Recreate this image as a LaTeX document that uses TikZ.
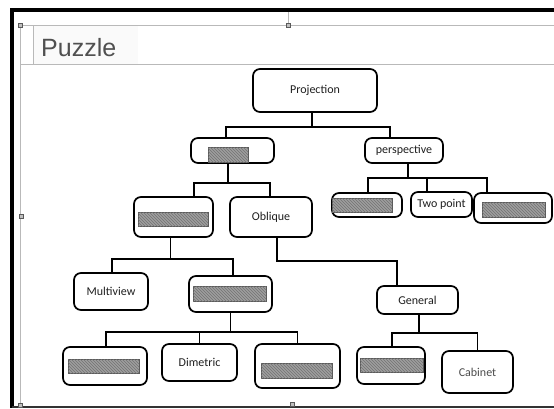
\documentclass[tikz,border=0pt]{standalone}
\usepackage{fontspec}
\newfontfamily\carl{Carlito}
\newfontfamily\libsans{Liberation Sans}
\usetikzlibrary{patterns}
\definecolor{hatchgray}{RGB}{158,158,158}
\definecolor{hatchline}{RGB}{115,115,115}
\definecolor{hatchedge}{RGB}{90,90,90}
\definecolor{framegray}{RGB}{185,185,185}
\definecolor{titlegray}{RGB}{80,80,80}
\tikzset{
  box/.style={draw=black, line width=1.7pt, rounded corners=7pt, fill=white,
    inner sep=0pt, font=\carl\fontsize{12}{14}\selectfont, text=black!88},
  hatch/.style={draw=hatchedge, line width=0.6pt, fill=hatchgray, inner sep=0pt,
    postaction={pattern=north west lines, pattern color=hatchline}},
  conn/.style={draw=black, line width=1.3pt},
  thickconn/.style={draw=black, line width=2.3pt},
  handle/.style={draw=gray!70!black, fill=gray!50, line width=0.4pt, minimum size=4pt, inner sep=0pt},
}
\begin{document}
\begin{tikzpicture}[x=1pt, y=-1pt]
\useasboundingbox (0,0) rectangle (554,408);
\fill[white] (0,0) rectangle (554,408);
% frame
\fill[black!2] (33,25) rectangle (138,64);
\draw[framegray, line width=0.8pt] (20,25) -- (554,25);
\draw[framegray, line width=0.8pt] (20,25) -- (20,406);
\draw[framegray, line width=0.8pt] (33,25) -- (33,64);
\draw[framegray, line width=0.8pt] (20,64) -- (554,64);
\draw[framegray, line width=0.6pt] (288,12) -- (288,25);
\draw[black, line width=3.5pt] (12,408) -- (12,10) -- (554,10);
\draw[black!80, line width=2pt] (12,406.5) -- (554,406.5);
\node[handle] (h1) at (20,25) {};
\node[handle] (h2) at (288,25) {};
\node[handle] (h3) at (21,216) {};
\node[handle] (h4) at (20,405) {};
\node[handle] (h5) at (292,404) {};
\node[anchor=base west, inner sep=0pt, text=titlegray, font=\libsans\fontsize{25}{30}\selectfont] (title) at (41,56) {Puzzle};
% nodes
\node[box, minimum width=124, minimum height=43] (proj) at (315,90.5) {Projection};
\node[box, minimum width=83, minimum height=25] (b1) at (232.5,150.5) {};
\node[box, minimum width=78, minimum height=25] (persp) at (404,150.5) {perspective};
\node[box, minimum width=79, minimum height=40] (b2) at (173.5,217) {};
\node[box, minimum width=82, minimum height=40] (obl) at (271,217) {Oblique};
\node[box, minimum width=70, minimum height=24] (b3) at (367,205) {};
\node[box, minimum width=61, minimum height=25] (two) at (441.5,204.5) {Two point};
\node[box, minimum width=78, minimum height=30] (b4) at (513,208) {};
\node[box, minimum width=74, minimum height=37] (multi) at (111,291.5) {Multiview};
\node[box, minimum width=83, minimum height=36] (b5) at (230.5,294) {};
\node[box, minimum width=81, minimum height=28] (gen) at (417.5,300) {General};
\node[box, minimum width=84, minimum height=38] (b6) at (105,366) {};
\node[box, minimum width=75, minimum height=37] (dim) at (199.5,362.5) {Dimetric};
\node[box, minimum width=85, minimum height=44] (b7) at (297.5,366) {};
\node[box, minimum width=68, minimum height=37] (b8) at (391,365.5) {};
\node[box, minimum width=71, minimum height=42, text=black!70] (cab) at (477.5,372) {Cabinet};
% hidden (gray) fields
\node[hatch, minimum width=40, minimum height=15] (g1) at (228,154.5) {};
\node[hatch, minimum width=70, minimum height=14] (g2) at (173,219) {};
\node[hatch, minimum width=60, minimum height=14] (g3) at (362,205) {};
\node[hatch, minimum width=63, minimum height=15] (g4) at (513.5,209.5) {};
\node[hatch, minimum width=73, minimum height=15] (g5) at (229.5,293.5) {};
\node[hatch, minimum width=71, minimum height=14] (g6) at (103.5,366) {};
\node[hatch, minimum width=71, minimum height=15] (g7) at (296.5,370.5) {};
\node[hatch, minimum width=63, minimum height=14] (g8) at (391.5,365) {};
% connectors
\draw[conn] ([xshift=-3pt]proj.south) -- ++(0,14) coordinate (j1);
\draw[conn] (j1) -| ([xshift=-6.5pt]b1.north);
\draw[conn] (j1) -| ([xshift=-14pt]persp.north);
\draw[conn] ([xshift=-4.5pt]b1.south) -- ++(0,19) coordinate (j2);
\draw[conn] (j2) -| ([xshift=20.5pt]b2.north);
\draw[conn] (j2) -| ([xshift=-1pt]obl.north);
\draw[conn] ([xshift=4pt]persp.south) -- ++(0,14) coordinate (j3);
\draw[conn] (j3) -| ([xshift=1pt]b3.north);
\draw[conn] (j3) -| ([xshift=-14.5pt]two.north);
\draw[conn] (j3) -| ([xshift=-26pt]b4.north);
\draw[conn] ([xshift=-3pt]b2.south) -- ++(0,21) coordinate (j4);
\draw[conn] (j4) -| ([xshift=1pt]multi.north);
\draw[conn] (j4) -| ([xshift=2.5pt]b5.north);
\draw[thickconn] ([xshift=6pt]obl.south) -- ++(0,23) -| ([xshift=-20.5pt]gen.north);
\draw[conn] (b5.south) -- ++(0,19) coordinate (j6);
\draw[conn] (j6) -| ([xshift=1pt]b6.north);
\draw[conn] (j6) -| (dim.north);
\draw[conn] (j6) -| (b7.north);
\draw[conn] ([xshift=1.5pt]gen.south) -- ++(0,18) coordinate (j7);
\draw[conn] (j7) -| ([xshift=1pt]b8.north);
\draw[conn] (j7) -| (cab.north);
\end{tikzpicture}
\end{document}
